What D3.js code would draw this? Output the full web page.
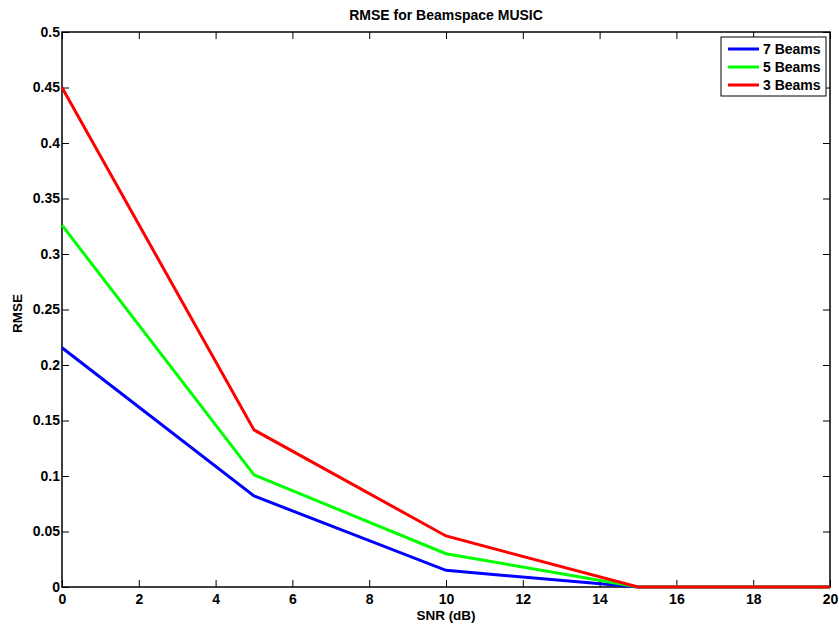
<!DOCTYPE html>
<html>
<head>
<meta charset="utf-8">
<script src="https://cdn.jsdelivr.net/npm/d3@7"></script>
<style>
  body { margin: 0; background: #fff; }
  text { font-family: "Liberation Sans", Arial, sans-serif; font-weight: bold; }
</style>
</head>
<body>
<script>
// SNR points and RMSE per beam count
var snr = [0, 5, 10, 15, 20];
var beams7 = [0.2155, 0.082, 0.015, 0, 0];
var beams5 = [0.326, 0.101, 0.030, 0, 0];
var beams3 = [0.450, 0.1415, 0.046, 0, 0];
var seriesNames = ["7 Beams", "5 Beams", "3 Beams"];
var seriesColors = ["#0000ff", "#00ff00", "#ff0000"];
var xTicks = [0, 2, 4, 6, 8, 10, 12, 14, 16, 18, 20];
var yTicks = [0, 0.05, 0.1, 0.15, 0.2, 0.25, 0.3, 0.35, 0.4, 0.45, 0.5];

var width = 839, height = 624;
var margin = {left: 62, right: 9, top: 32, bottom: 37};

var svg = d3.select("body").append("svg")
    .attr("width", width)
    .attr("height", height);

var x = d3.scaleLinear().domain([0, 20]).range([margin.left, width - margin.right]);
var y = d3.scaleLinear().domain([0, 0.5]).range([height - margin.bottom, margin.top]);

var tickLen = 7;

// bottom and top axes
svg.append("g")
    .attr("transform", "translate(0," + y(0) + ")")
    .call(d3.axisBottom(x).tickValues(xTicks).tickSizeInner(-tickLen).tickSizeOuter(0).tickPadding(6).tickFormat(d3.format("d")))
    .call(function(g){ g.select(".domain").remove(); g.selectAll("text").attr("fill", "#000").attr("dy", "0.75em").style("font-size", "14px"); });
svg.append("g")
    .attr("transform", "translate(0," + y(0.5) + ")")
    .call(d3.axisTop(x).tickValues(xTicks).tickSizeInner(-tickLen).tickSizeOuter(0).tickFormat(""))
    .call(function(g){ g.select(".domain").remove(); });

// left and right axes
svg.append("g")
    .attr("transform", "translate(" + x(0) + ",0)")
    .call(d3.axisLeft(y).tickValues(yTicks).tickSizeInner(-tickLen).tickSizeOuter(0).tickPadding(2).tickFormat(function(d){ return d3.format("")(+d.toFixed(2)); }))
    .call(function(g){ g.select(".domain").remove(); g.selectAll("text").attr("fill", "#000").style("font-size", "14px"); });
svg.append("g")
    .attr("transform", "translate(" + x(20) + ",0)")
    .call(d3.axisRight(y).tickValues(yTicks).tickSizeInner(-tickLen).tickSizeOuter(0).tickFormat(""))
    .call(function(g){ g.select(".domain").remove(); });

svg.selectAll(".tick line").attr("stroke", "#000");

// box
svg.append("rect")
    .attr("x", x(0)).attr("y", y(0.5))
    .attr("width", x(20) - x(0)).attr("height", y(0) - y(0.5))
    .attr("fill", "none").attr("stroke", "#000").attr("stroke-width", 1.5);

// lines
var allSeries = [beams7, beams5, beams3];
var line = d3.line()
    .x(function(d, i){ return x(snr[i]); })
    .y(function(d){ return y(d); });

svg.selectAll(".series")
    .data(allSeries)
    .enter()
    .append("path")
    .attr("class", "series")
    .attr("d", line)
    .attr("fill", "none")
    .attr("stroke", function(d, i){ return seriesColors[i]; })
    .attr("stroke-width", 3);

// title and labels
svg.append("text")
    .attr("x", (x(0) + x(20)) / 2).attr("y", 20)
    .attr("text-anchor", "middle")
    .style("font-size", "14px")
    .text("RMSE for Beamspace MUSIC");
svg.append("text")
    .attr("x", (x(0) + x(20)) / 2).attr("y", 620)
    .attr("text-anchor", "middle")
    .style("font-size", "13.5px")
    .text("SNR (dB)");
svg.append("text")
    .attr("transform", "translate(22," + ((y(0) + y(0.5)) / 2 + 4) + ") rotate(-90)")
    .attr("text-anchor", "middle")
    .style("font-size", "13.5px")
    .text("RMSE");

// legend
var legend = svg.append("g").attr("transform", "translate(721,37)");
legend.append("rect")
    .attr("width", 105).attr("height", 59)
    .attr("fill", "#fff").attr("stroke", "#000");
var items = legend.selectAll(".item")
    .data(seriesNames)
    .enter()
    .append("g")
    .attr("transform", function(d, i){ return "translate(0," + (12 + i * 18) + ")"; });
items.append("line")
    .attr("x1", 7).attr("x2", 38)
    .attr("stroke", function(d, i){ return seriesColors[i]; })
    .attr("stroke-width", 3);
items.append("text")
    .attr("x", 42).attr("dy", "0.36em")
    .style("font-size", "14px")
    .text(function(d){ return d; });
</script>
</body>
</html>
